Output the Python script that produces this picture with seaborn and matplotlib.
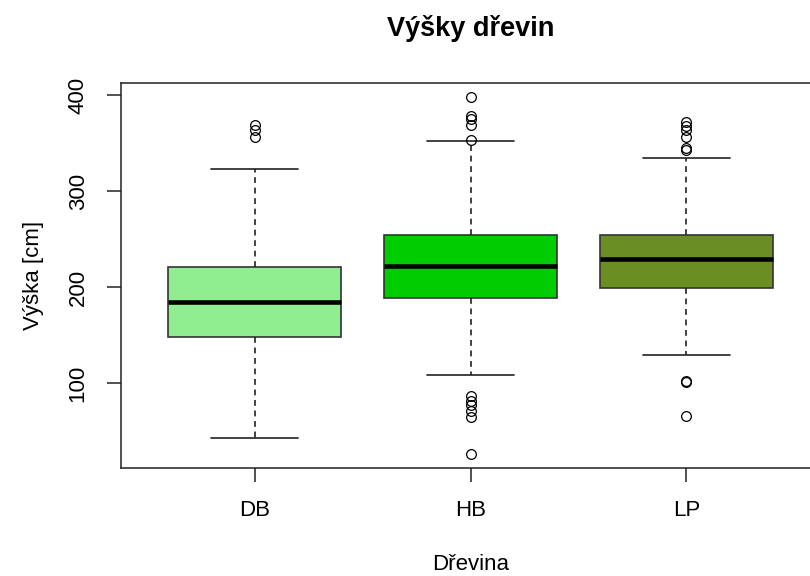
import numpy as np
import pandas as pd
import matplotlib.pyplot as plt
import seaborn as sns

# values (cm)
groups = ['DB', 'HB', 'LP']
colors = ['#90EE90', '#00CD00', '#6B8E23']
q1 = [148.5, 189.0, 199.5]
medians = [185.0, 222.5, 229.0]
q3 = [221.3, 254.5, 254.0]
whisker_lo = [43.0, 108.5, 129.5]
whisker_hi = [323.0, 352.0, 335.0]
outliers_lo = [[], [26.5, 64.5, 70.5, 77.5, 81.0, 87.0], [66.0, 101.0, 102.0]]
outliers_hi = [[356.5, 363.5, 369.0], [354.0, 369.0, 375.0, 379.0, 398.0],
               [343.0, 345.0, 357.0, 363.5, 368.0, 372.0]]


def expand(lo_out, wlo, a, med, b, whi, hi_out):
    # 41 sorted points whose quartiles land exactly on a / med / b
    vals = list(lo_out) + [wlo]
    vals += [a] * (15 - len(vals))
    vals += [med] * 11
    vals += [b] * (40 - len(vals) - len(hi_out))
    vals += [whi] + list(hi_out)
    return vals


rows = []
for i, g in enumerate(groups):
    for v in expand(outliers_lo[i], whisker_lo[i], q1[i], medians[i], q3[i],
                    whisker_hi[i], outliers_hi[i]):
        rows.append({'Dřevina': g, 'Výška': v})
df = pd.DataFrame(rows)

sns.set_theme(style='ticks', rc={
    'xtick.major.size': 10, 'ytick.major.size': 10,
    'xtick.major.width': 1.1, 'ytick.major.width': 1.1,
    'axes.linewidth': 1.1, 'axes.edgecolor': '#222222',
    'xtick.color': '#222222', 'ytick.color': '#222222',
    'text.color': 'black', 'axes.labelcolor': 'black',
})
plt.rcParams['font.family'] = ['Liberation Sans', 'DejaVu Sans']

fig = plt.figure(figsize=(8.1, 5.76), dpi=100)
ax = fig.add_axes([0.149, 0.1875, 0.8638, 0.6684])

sns.boxplot(data=df, x='Dřevina', y='Výška', hue='Dřevina', order=groups,
            hue_order=groups, palette=colors, saturation=1, width=0.8,
            linecolor='#333333', linewidth=1.2, whis=1.5, legend=False, ax=ax,
            whiskerprops=dict(linestyle=(0, (3.5, 2.8)), color='#222222', linewidth=1.2),
            capprops=dict(color='#222222', linewidth=1.2),
            medianprops=dict(linewidth=3.3, color='black'),
            flierprops=dict(marker='o', markersize=7, markerfacecolor='none',
                            markeredgecolor='black', markeredgewidth=0.9),
            capwidths=0.4)

ax.set_xlim(-0.62, 2.62)
ax.set_ylim(11.5, 413)
ax.set_yticks([100, 200, 300, 400])
for s in ax.spines.values():
    s.set_visible(True)

ax.tick_params(axis='x', labelsize=16, pad=13, labelcolor='black')
ax.tick_params(axis='y', labelsize=16, pad=13, labelcolor='black')
for lab in ax.get_yticklabels():
    lab.set_rotation(90)
    lab.set_va('center')

ax.set_title('Výšky dřevin', fontsize=19.5, fontweight='bold', pad=34, color='black')
ax.set_xlabel('Dřevina', fontsize=16, labelpad=24, color='black')
ax.set_ylabel('Výška [cm]', fontsize=16, labelpad=17, color='black')

plt.savefig('out.png', dpi=100)
